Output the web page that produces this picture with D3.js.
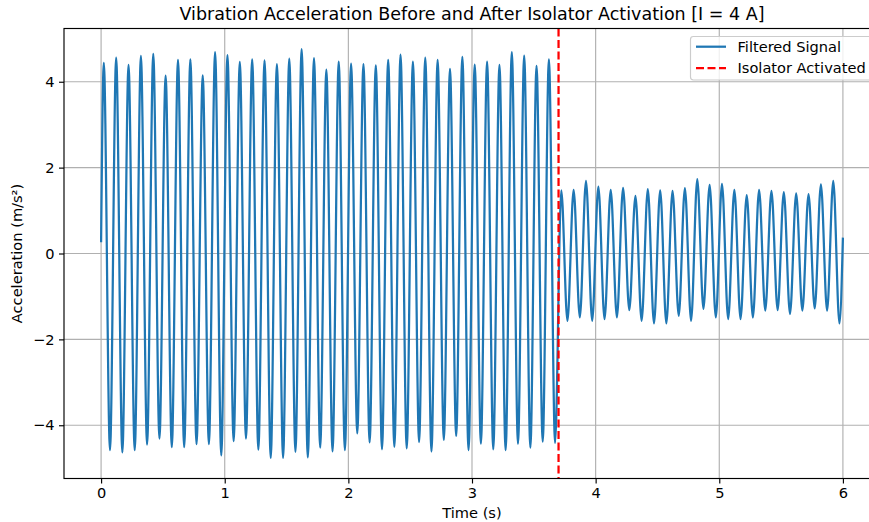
<!DOCTYPE html>
<html>
<head>
<meta charset="utf-8">
<script src="https://cdn.jsdelivr.net/npm/d3@7"></script>
<style>
  html, body { margin: 0; padding: 0; background: #fff; }
  svg { display: block; font-family: "DejaVu Sans", sans-serif; }
</style>
</head>
<body>
<svg id="chart" width="869" height="522"></svg>
<script>
// Extremum amplitudes of the filtered acceleration signal (m/s²), one per 10 Hz cycle.
const peaksBefore = [4.44, 4.56, 4.39, 4.60, 4.65, 4.14, 4.51, 4.52, 4.15, 4.69,
                     4.62, 4.46, 4.52, 4.50, 4.41, 4.54, 4.76, 4.55, 4.28, 4.47,
                     4.42, 4.41, 4.38, 4.51, 4.63, 4.47, 4.56, 4.51, 4.30, 4.58,
                     4.40, 4.47, 4.39, 4.69, 4.61, 4.37, 4.52];
const troughsBefore = [-4.58, -4.63, -4.58, -4.45, -4.31, -4.51, -4.51, -4.44, -4.44, -4.70,
                       -4.37, -4.31, -4.57, -4.76, -4.76, -4.62, -4.75, -4.52, -4.61, -4.58,
                       -4.19, -4.40, -4.56, -4.50, -4.54, -4.39, -4.61, -4.34, -4.25, -4.58,
                       -4.43, -4.56, -4.58, -4.43, -4.52, -4.38, -4.41];
const peaksAfter = [1.47, 1.48, 1.69, 1.56, 1.48, 1.53, 1.34, 1.50, 1.47, 1.46,
                    1.52, 1.73, 1.60, 1.62, 1.48, 1.36, 1.48, 1.46, 1.43, 1.40,
                    1.38, 1.61, 1.69];
const troughsAfter = [-1.57, -1.49, -1.57, -1.53, -1.49, -1.32, -1.57, -1.63, -1.63, -1.45,
                      -1.57, -1.29, -1.49, -1.53, -1.53, -1.49, -1.33, -1.32, -1.41, -1.33,
                      -1.28, -1.33, -1.63];
const startSample = [0.0, 0.26];   // [time s, acceleration]
const endSample = [6.0, 0.37];
const firstPeakTime = 0.022;       // s
const cyclePeriod = 0.1;           // s (10 Hz excitation)
const activationTime = 3.7;        // s

const xTicks = [0, 1, 2, 3, 4, 5, 6];
const yTicks = [-4, -2, 0, 2, 4];
const titleText = "Vibration Acceleration Before and After Isolator Activation [I = 4 A]";
const xLabel = "Time (s)";
const yLabel = "Acceleration (m/s²)";
const seriesNames = ["Filtered Signal", "Isolator Activated"];

// Assemble the signal as alternating peak / trough samples
const peaks = peaksBefore.concat(peaksAfter);
const troughs = troughsBefore.concat(troughsAfter);
const signal = [{ t: startSample[0], a: startSample[1] }];
peaks.forEach((p, i) => {
  signal.push({ t: firstPeakTime + i * cyclePeriod, a: p });
  signal.push({ t: firstPeakTime + cyclePeriod / 2 + i * cyclePeriod, a: troughs[i] });
});
signal.push({ t: endSample[0], a: endSample[1] });

const svg = d3.select("#chart");
const plotLeft = 64, plotRight = 880, plotTop = 28.5, plotBottom = 478.5;
const fontSize = 14.6, titleSize = 17.5, lineW = 2.25;

const x = d3.scaleLinear().domain([-0.3, 6.3]).range([plotLeft, plotRight]);
const y = d3.scaleLinear().domain([-5.24, 5.24]).range([plotBottom, plotTop]);

svg.append("defs").append("clipPath").attr("id", "plot-clip")
  .append("rect").attr("x", plotLeft).attr("y", plotTop)
  .attr("width", plotRight - plotLeft).attr("height", plotBottom - plotTop);

// Grid
const grid = svg.append("g").attr("stroke", "#b0b0b0").attr("stroke-width", 1.15);
grid.selectAll("line.gx").data(xTicks).join("line").attr("class", "gx")
  .attr("x1", d => x(d)).attr("x2", d => x(d)).attr("y1", plotTop).attr("y2", plotBottom);
grid.selectAll("line.gy").data(yTicks).join("line").attr("class", "gy")
  .attr("x1", plotLeft).attr("x2", plotRight).attr("y1", d => y(d)).attr("y2", d => y(d));

// Signal
const line = d3.line().x(d => x(d.t)).y(d => y(d.a)).curve(d3.curveMonotoneX);
svg.append("path").datum(signal)
  .attr("clip-path", "url(#plot-clip)")
  .attr("fill", "none").attr("stroke", "#1f77b4").attr("stroke-width", lineW)
  .attr("stroke-linejoin", "round")
  .attr("d", line);

// Activation marker
svg.append("line")
  .attr("x1", x(activationTime)).attr("x2", x(activationTime))
  .attr("y1", plotTop).attr("y2", plotBottom)
  .attr("stroke", "red").attr("stroke-width", lineW).attr("stroke-dasharray", "8,3.5");

// Axes
const fmt = d => (d < 0 ? "\u2212" + Math.abs(d) : String(d));
const xAxis = svg.append("g").attr("transform", `translate(0,${plotBottom})`)
  .call(d3.axisBottom(x).tickValues(xTicks).tickFormat(fmt).tickSize(5).tickPadding(4.4));
const yAxis = svg.append("g").attr("transform", `translate(${plotLeft},0)`)
  .call(d3.axisLeft(y).tickValues(yTicks).tickFormat(fmt).tickSize(5).tickPadding(4.4));
[xAxis, yAxis].forEach(g => {
  g.select(".domain").remove();
  g.selectAll(".tick line").attr("stroke", "#000").attr("stroke-width", 1.15);
  g.selectAll(".tick text").attr("fill", "#000").attr("font-size", fontSize)
    .attr("font-family", "DejaVu Sans, sans-serif");
});

// Spines
svg.append("rect").attr("x", plotLeft).attr("y", plotTop)
  .attr("width", plotRight - plotLeft).attr("height", plotBottom - plotTop)
  .attr("stroke", "#000").attr("stroke-width", 1.15).attr("fill", "none");

// Labels
svg.append("text").attr("x", (plotLeft + plotRight) / 2).attr("y", 20)
  .attr("text-anchor", "middle").attr("font-size", titleSize).text(titleText);
svg.append("text").attr("x", (plotLeft + plotRight) / 2).attr("y", 518)
  .attr("text-anchor", "middle").attr("font-size", fontSize).text(xLabel);
svg.append("text").attr("transform", `translate(22,${(plotTop + plotBottom) / 2}) rotate(-90)`)
  .attr("text-anchor", "middle").attr("font-size", fontSize).text(yLabel);

// Legend
const legend = svg.append("g");
legend.append("rect").attr("x", 690.5).attr("y", 36.5).attr("width", 184).attr("height", 43.5)
  .attr("rx", 2.9).attr("fill", "#fff").attr("fill-opacity", 0.8)
  .attr("stroke", "#cccccc").attr("stroke-width", 1.15);
const rows = [
  { name: seriesNames[0], color: "#1f77b4", dash: null, y: 46.7 },
  { name: seriesNames[1], color: "red", dash: "8,3.5", y: 68.2 }
];
rows.forEach(r => {
  legend.append("line").attr("x1", 696).attr("x2", 726).attr("y1", r.y).attr("y2", r.y)
    .attr("stroke", r.color).attr("stroke-width", lineW)
    .attr("stroke-dasharray", r.dash);
  legend.append("text").attr("x", 737.5).attr("y", r.y).attr("dy", "0.35em")
    .attr("font-size", fontSize).text(r.name);
});
</script>
</body>
</html>
